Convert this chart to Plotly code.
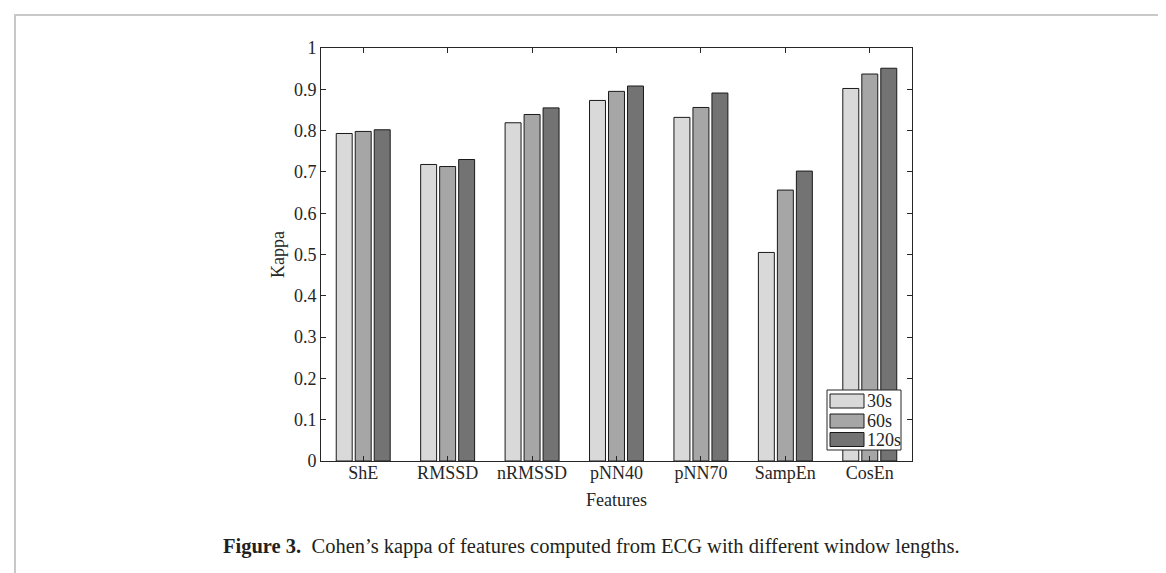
import plotly.graph_objects as go

features = ["ShE", "RMSSD", "nRMSSD", "pNN40", "pNN70", "SampEn", "CosEn"]
series_names = ["30s", "60s", "120s"]
kappa_30s = [0.793, 0.718, 0.819, 0.873, 0.832, 0.505, 0.902]
kappa_60s = [0.798, 0.713, 0.839, 0.895, 0.856, 0.656, 0.937]
kappa_120s = [0.802, 0.730, 0.855, 0.908, 0.891, 0.702, 0.951]
y_tick_vals = [0, 0.1, 0.2, 0.3, 0.4, 0.5, 0.6, 0.7, 0.8, 0.9, 1]
y_tick_text = ["0", "0.1", "0.2", "0.3", "0.4", "0.5", "0.6", "0.7", "0.8", "0.9", "1"]
colors = ["#d9d9d9", "#a6a6a6", "#737373"]

W, H = 1166, 573
L, R, T, B = 313, 904, 40, 453

serif = "Liberation Serif, Times New Roman, serif"
ink = "#262626"

fig = go.Figure()
for name, vals, c in zip(series_names, [kappa_30s, kappa_60s, kappa_120s], colors):
    fig.add_trace(go.Bar(
        x=list(range(len(features))), y=vals, name=name,
        marker=dict(color=c, line=dict(color="#1a1a1a", width=1)),
        showlegend=False,
    ))

def px2paper_x(px):
    return (px - L) / (R - L)

def px2paper_y(py):
    return (B - py) / (B - T)

shapes = []
annotations = []

# outer figure frame
shapes.append(dict(type="rect", xref="paper", yref="paper",
                   x0=px2paper_x(7), x1=px2paper_x(1161),
                   y0=px2paper_y(590), y1=px2paper_y(7),
                   line=dict(color="#c8c8c8", width=2), fillcolor="rgba(0,0,0,0)",
                   layer="below"))

# legend box (drawn in layout space)
shapes.append(dict(type="rect", xref="paper", yref="paper",
                   x0=px2paper_x(819), x1=px2paper_x(893),
                   y0=px2paper_y(442), y1=px2paper_y(382),
                   line=dict(color=ink, width=1), fillcolor="white", layer="above"))
row_centers = [393, 413, 431.5]
for name, c, yc in zip(series_names, colors, row_centers):
    shapes.append(dict(type="rect", xref="paper", yref="paper",
                       x0=px2paper_x(822), x1=px2paper_x(856),
                       y0=px2paper_y(yc + 7), y1=px2paper_y(yc - 7),
                       line=dict(color="#1a1a1a", width=1), fillcolor=c, layer="above"))
    annotations.append(dict(xref="paper", yref="paper",
                            x=px2paper_x(857), y=px2paper_y(yc),
                            xanchor="left", yanchor="middle", showarrow=False,
                            text=name, font=dict(family=serif, size=18, color=ink)))

annotations.append(dict(
    xref="paper", yref="paper", x=px2paper_x(213), y=px2paper_y(538),
    xanchor="left", yanchor="middle", showarrow=False,
    text="<b>Figure 3.</b>  Cohen\u2019s kappa of features computed from ECG with different window lengths.",
    font=dict(family=serif, size=20.5, color="#231f20"),
))

fig.update_layout(
    width=W, height=H,
    margin=dict(l=L, r=W - R, t=T, b=H - B, autoexpand=False),
    paper_bgcolor="white", plot_bgcolor="white",
    barmode="group", bargap=0.325, bargroupgap=0.16,
    font=dict(family=serif, size=18, color=ink),
    showlegend=False,
    shapes=shapes, annotations=annotations,
    xaxis=dict(
        range=[-0.5, 6.5], tickmode="array",
        tickvals=list(range(len(features))), ticktext=features,
        ticks="inside", ticklen=5, tickcolor=ink,
        showline=True, linecolor=ink, linewidth=1, mirror="ticks",
        showgrid=False, zeroline=False, ticklabelstandoff=-5,
        tickfont=dict(family=serif, size=18, color=ink),
        title=dict(text="Features", standoff=11, font=dict(family=serif, size=18, color=ink)),
    ),
    yaxis=dict(
        range=[0, 1], tickmode="array", tickvals=y_tick_vals, ticktext=y_tick_text,
        ticks="inside", ticklen=5, tickcolor=ink,
        showline=True, linecolor=ink, linewidth=1, mirror="ticks",
        showgrid=False, zeroline=False,
        tickfont=dict(family=serif, size=18, color=ink),
        title=dict(text="Kappa", standoff=4, font=dict(family=serif, size=18, color=ink)),
    ),
)

fig.write_html("out.html")
